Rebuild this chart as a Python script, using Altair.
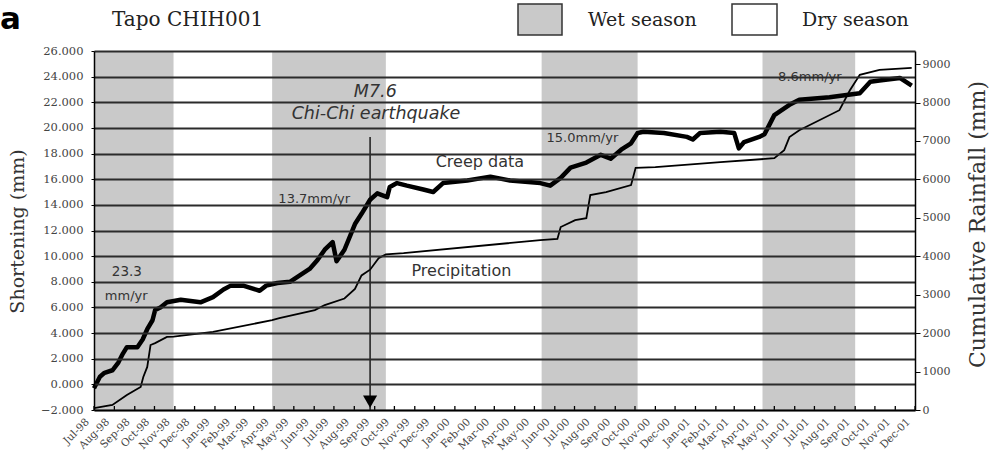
import altair as alt
import pandas as pd

# ---- data -------------------------------------------------------------
MONTHS = pd.date_range("1998-07-01", "2001-12-01", freq="MS").strftime("%Y-%m-%d").tolist()

WET_START = ["1998-07-01", "1999-03-29", "2000-05-12", "2001-04-13"]
WET_END = ["1998-10-30", "1999-09-18", "2000-10-05", "2001-09-01"]

CREEP_DATE = [
    "1998-07-01", "1998-07-10", "1998-07-17", "1998-07-29", "1998-08-07", "1998-08-14",
    "1998-08-20", "1998-09-05", "1998-09-13", "1998-09-20", "1998-09-28", "1998-10-02",
    "1998-10-10", "1998-10-20", "1998-11-10", "1998-12-10", "1998-12-29", "1999-01-14",
    "1999-01-25", "1999-02-13", "1999-03-10", "1999-03-20", "1999-04-06", "1999-04-25",
    "1999-05-10", "1999-05-25", "1999-06-06", "1999-06-17", "1999-06-29", "1999-07-05",
    "1999-07-17", "1999-08-02", "1999-08-12", "1999-08-25", "1999-09-05", "1999-09-20",
    "1999-09-24", "1999-10-05", "1999-10-20", "1999-11-14", "1999-11-29", "1999-12-14",
    "2000-01-20", "2000-02-24", "2000-03-25", "2000-05-10", "2000-05-25", "2000-06-10",
    "2000-06-25", "2000-07-19", "2000-08-10", "2000-08-25", "2000-09-10", "2000-09-25",
    "2000-10-05", "2000-10-14", "2000-11-14", "2000-12-19", "2000-12-28", "2001-01-08",
    "2001-02-08", "2001-03-01", "2001-03-08", "2001-03-16", "2001-04-08", "2001-04-16",
    "2001-04-23", "2001-05-01", "2001-05-24", "2001-06-08", "2001-07-24", "2001-09-08",
    "2001-09-24", "2001-10-08", "2001-11-08", "2001-11-26",
]
CREEP_MM = [
    -0.3, 0.6, 0.9, 1.1, 1.7, 2.4,
    2.9, 2.9, 3.5, 4.3, 5.0, 5.8,
    6.0, 6.4, 6.6, 6.4, 6.8, 7.4,
    7.7, 7.7, 7.3, 7.7, 7.9, 8.0,
    8.5, 9.0, 9.7, 10.5, 11.1, 9.6,
    10.5, 12.5, 13.3, 14.4, 14.9, 14.6,
    15.4, 15.7, 15.5, 15.2, 15.0, 15.7,
    15.9, 16.2, 15.9, 15.7, 15.5, 16.1,
    16.9, 17.3, 17.9, 17.6, 18.3, 18.8,
    19.6, 19.7, 19.6, 19.3, 19.1, 19.6,
    19.7, 19.6, 18.4, 18.9, 19.3, 19.5,
    20.2, 21.0, 21.8, 22.2, 22.4, 22.7,
    23.6, 23.7, 23.9, 23.3,
]

RAIN_DATE = [
    "1998-07-01", "1998-07-29", "1998-08-20", "1998-09-02", "1998-09-10", "1998-09-14",
    "1998-09-20", "1998-09-25", "1998-10-02", "1998-10-20", "1998-10-30", "1998-12-29",
    "1999-03-29", "1999-04-09", "1999-06-02", "1999-06-17", "1999-07-17", "1999-08-02",
    "1999-08-12", "1999-08-25", "1999-09-07", "1999-09-18", "1999-10-15", "2000-05-10",
    "2000-06-05", "2000-06-10", "2000-07-02", "2000-07-19", "2000-07-25", "2000-08-18",
    "2000-09-25", "2000-10-02", "2000-11-01", "2001-02-08", "2001-05-01", "2001-05-16",
    "2001-05-24", "2001-06-08", "2001-08-08", "2001-08-24", "2001-09-08", "2001-10-08",
    "2001-11-26",
]
RAIN_MM = [
    50, 130, 390, 520, 600, 860,
    1120, 1690, 1740, 1900, 1910, 2030,
    2340, 2390, 2600, 2730, 2900, 3150,
    3500, 3650, 3950, 4050, 4080, 4420,
    4450, 4760, 4940, 4990, 5590, 5670,
    5850, 6300, 6320, 6450, 6550, 6760,
    7100, 7280, 7800, 8320, 8720, 8850,
    8900,
]

QUAKE_DATE = "1999-08-25"

NOTE_TEXT = ["Creep data", "Precipitation", "13.7mm/yr", "15.0mm/yr", "23.3", "mm/yr", "8.6mm/yr"]
NOTE_DATE = ["2000-02-08", "2000-01-11", "1999-06-01", "2000-07-13", "1998-08-20", "1998-08-19", "2001-06-24"]
NOTE_VAL = [17.35, 8.85, 14.45, 19.2, 8.75, 6.9, 23.95]
NOTE_SIZE = [16, 16, 13, 13, 13.5, 13, 13]

QUAKE_TEXT = ["M7.6", "Chi-Chi earthquake"]
QUAKE_TEXT_DATE = ["1999-09-02", "1999-09-03"]
QUAKE_TEXT_VAL = [22.8, 21.1]

# ---- styling ----------------------------------------------------------
SERIF = "DejaVu Serif"
SANS = "DejaVu Sans"
W, H = 821, 359
LEFT_DOMAIN = [-2, 26]
RIGHT_DOMAIN = [0, 9340]


def dt(s):
    y, m, d = (int(p) for p in s.split("-"))
    return alt.DateTime(year=y, month=m, date=d, utc=True)


x_scale = alt.Scale(type="utc", domain=[dt(MONTHS[0]), dt(MONTHS[-1])])
x_axis = alt.Axis(
    values=[dt(m) for m in MONTHS],
    labelExpr="utcFormat(datum.value, '%b-%y')",
    labelAngle=315, labelAlign="right", labelBaseline="middle",
    labelFont=SERIF, labelFontSize=10.5, labelColor="#444",
    labelPadding=10, labelOffset=-7, labelOverlap=False, labelFlush=False,
    ticks=False, grid=False, domainColor="black", domainWidth=1.5,
    title=None, zindex=1,
)
left_scale = alt.Scale(domain=LEFT_DOMAIN, nice=False, zero=False)
left_axis = alt.Axis(
    orient="left", values=list(range(-2, 27, 2)), format=".3f",
    grid=True, gridColor="#2b2b2b", gridWidth=1.8,
    domainColor="black", domainWidth=1.5, tickColor="black", tickSize=3,
    labelFont=SERIF, labelFontSize=11.5, labelColor="#444", labelPadding=8,
    title="Shortening (mm)", titleFont=SERIF, titleFontSize=19,
    titleFontWeight="normal", titleColor="#333", titleAngle=270,
    titleX=-77, titleY=180, titleAlign="center", titleBaseline="middle",
    zindex=1,
)
right_axis = alt.Axis(
    orient="right", values=list(range(0, 10000, 1000)), format="d",
    grid=False, domainColor="black", domainWidth=1.5, tickColor="black", tickSize=5,
    labelFont=SERIF, labelFontSize=11, labelColor="#444", labelPadding=2,
    title="Cumulative Rainfall (mm)", titleFont=SERIF, titleFontSize=22,
    titleFontWeight="normal", titleColor="#333", titleAngle=270,
    titleX=62, titleY=173, titleAlign="center", titleBaseline="middle",
    zindex=1,
)


def X(field):
    return alt.X(f"{field}:T", scale=x_scale, axis=x_axis)


def Y(field):
    return alt.Y(f"{field}:Q", scale=left_scale, axis=left_axis)


# ---- tables -----------------------------------------------------------
seasons = pd.DataFrame({"start": WET_START, "end": WET_END})
creep = pd.DataFrame({"date": CREEP_DATE, "val": CREEP_MM})
rain = pd.DataFrame({"date": RAIN_DATE, "rain": RAIN_MM})
months = pd.DataFrame({"date": MONTHS})
notes = pd.DataFrame({"date": NOTE_DATE, "val": NOTE_VAL, "label": NOTE_TEXT, "fs": NOTE_SIZE})
quake_notes = pd.DataFrame({"date": QUAKE_TEXT_DATE, "val": QUAKE_TEXT_VAL, "label": QUAKE_TEXT})
quake = pd.DataFrame({"date": [QUAKE_DATE], "val": [19.3], "val2": [-2.0], "tip": [-1.35]})

# ---- marks ------------------------------------------------------------
bands = alt.Chart(seasons).mark_rect(color="#c9c9c9").encode(
    x=X("start"), x2="end:T", y=alt.value(0), y2=alt.value(H)
)

month_ticks = alt.Chart(months).mark_rule(color="black", strokeWidth=1.3).encode(
    x=X("date"), y=alt.value(H), y2=alt.value(H - 4)
)

creep_line = alt.Chart(creep).mark_line(color="black", strokeWidth=4.5, strokeJoin="round").encode(
    x=X("date"), y=Y("val")
)

arrow = alt.Chart(quake).mark_rule(color="black", strokeWidth=1.3).encode(
    x=X("date"), y=Y("val"), y2="val2:Q"
)
arrow_head = alt.Chart(quake).mark_point(
    shape="triangle-down", filled=True, color="black", size=200, opacity=1
).encode(x=X("date"), y=Y("tip"))

note_marks = alt.Chart(notes).mark_text(font=SANS, color="#333", align="center", baseline="middle").encode(
    x=X("date"), y=Y("val"), text="label:N", size=alt.Size("fs:Q", scale=None, legend=None)
)
quake_marks = alt.Chart(quake_notes).mark_text(
    font=SANS, fontStyle="italic", fontSize=17.5, color="#333", align="center", baseline="middle"
).encode(x=X("date"), y=Y("val"), text="label:N")

left = alt.layer(bands, month_ticks, creep_line, arrow, arrow_head, note_marks, quake_marks)

rain_line = alt.Chart(rain).mark_line(color="black", strokeWidth=1.8).encode(
    x=X("date"),
    y=alt.Y("rain:Q", scale=alt.Scale(domain=RIGHT_DOMAIN, nice=False), axis=right_axis),
)

# ---- header: panel letter, station name, season key ------------------
one = pd.DataFrame({"k": [0]})
panel_letter = alt.Chart(one).mark_text(
    text="a", font=SANS, fontWeight="bold", fontSize=31, align="left", baseline="alphabetic", color="black"
).encode(x=alt.value(-94), y=alt.value(-22))
station = alt.Chart(one).mark_text(
    text="Tapo CHIH001", font=SERIF, fontSize=20, align="left", baseline="alphabetic", color="#222"
).encode(x=alt.value(18), y=alt.value(-25))
wet_box = alt.Chart(one).mark_rect(fill="#c9c9c9", stroke="#333", strokeWidth=1.5).encode(
    x=alt.value(424), x2=alt.value(468), y=alt.value(-47), y2=alt.value(-16)
)
dry_box = alt.Chart(one).mark_rect(fill="white", stroke="#333", strokeWidth=1.5).encode(
    x=alt.value(638), x2=alt.value(683), y=alt.value(-47), y2=alt.value(-16)
)
wet_label = alt.Chart(one).mark_text(
    text="Wet season", font=SERIF, fontSize=19, align="left", baseline="alphabetic", color="#222"
).encode(x=alt.value(494), y=alt.value(-25))
dry_label = alt.Chart(one).mark_text(
    text="Dry season", font=SERIF, fontSize=19, align="left", baseline="alphabetic", color="#222"
).encode(x=alt.value(708), y=alt.value(-25))

chart = (
    alt.layer(left, rain_line, panel_letter, station, wet_box, dry_box, wet_label, dry_label)
    .resolve_scale(y="independent")
    .properties(
        width=W, height=H,
        autosize=alt.AutoSizeParams(type="none"),
        padding={"left": 94, "top": 51, "right": 84, "bottom": 46},
        background="white",
    )
    .configure_view(stroke=None)
)

chart.save("out.html", embed_options={"renderer": "svg", "actions": False})
